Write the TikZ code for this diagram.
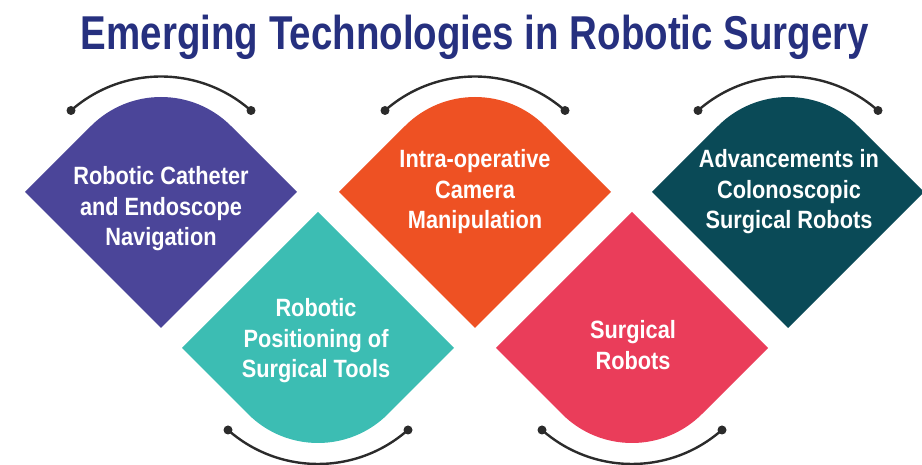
\documentclass[tikz,border=0pt]{standalone}
\usepackage{fontspec}
\setmainfont{Liberation Sans}[FakeStretch=0.87]
\newfontfamily\headfont{Liberation Sans}[FakeStretch=0.81]
\usetikzlibrary{positioning}

\definecolor{headblue}{HTML}{26307F}
\definecolor{cathpurple}{HTML}{4B4599}
\definecolor{toolteal}{HTML}{3CBDB3}
\definecolor{camorange}{HTML}{EE5123}
\definecolor{robotpink}{HTML}{EA3D5A}
\definecolor{colonteal}{HTML}{0A4A57}
\definecolor{arcgray}{HTML}{2B2B2B}

\begin{document}
\begin{tikzpicture}[x=1pt, y=1pt,
	topic/.style={text=white, font=\bfseries\fontsize{25}{30.5}\selectfont, align=center, inner sep=0pt},
	bracket/.style={draw=arcgray, line width=2.4pt}]
	\useasboundingbox (0,0) rectangle (922,465);

	\node[anchor=base, text=headblue, font=\headfont\bfseries\fontsize{47.5}{50}\selectfont] (title) at (475,415) {Emerging Technologies in Robotic Surgery};

	% upper row, rounded top corner
	\foreach \cx/\col in {161/cathpurple, 475/camorange, 788/colonteal} {
		\fill[\col] (\cx-136,273) -- (\cx,137) -- (\cx+136,273) -- (\cx+70,339) arc[start angle=45, end angle=135, radius=99] -- cycle;
	}
	% lower row, rounded bottom corner
	\foreach \cx/\col in {318/toolteal, 632/robotpink} {
		\fill[\col] (\cx-136,117) -- (\cx,253) -- (\cx+136,117) -- (\cx+70,51) arc[start angle=-45, end angle=-135, radius=99] -- cycle;
	}

	% brackets over and under the tiles
	\foreach \cx [count=\i] in {161,475,788} {
		\coordinate (up\i-l) at (\cx-90,354.5);
		\coordinate (up\i-r) at (\cx+90,354.5);
		\draw[bracket] (up\i-l) arc[start angle=131.4, end angle=48.6, radius=136];
		\fill[arcgray] (up\i-l) circle (4.5) (up\i-r) circle (4.5);
	}
	\foreach \cx [count=\i] in {318,632} {
		\coordinate (dn\i-l) at (\cx-90,35);
		\coordinate (dn\i-r) at (\cx+90,35);
		\draw[bracket] (dn\i-l) arc[start angle=228.6, end angle=311.4, radius=136];
		\fill[arcgray] (dn\i-l) circle (4.5) (dn\i-r) circle (4.5);
	}

	\node[topic] (catheter) at (161,256) {Robotic Catheter\\and Endoscope\\Navigation};
	\node[topic] (camera) at (475,273) {Intra-operative\\Camera\\Manipulation};
	\node[topic] (colon) at (789,273) {Advancements in\\Colonoscopic\\Surgical Robots};
	\node[topic] (tools) at (316,124) {Robotic\\Positioning of\\Surgical Tools};
	\node[topic] (robots) at (633,120) {Surgical\\Robots};
\end{tikzpicture}
\end{document}
